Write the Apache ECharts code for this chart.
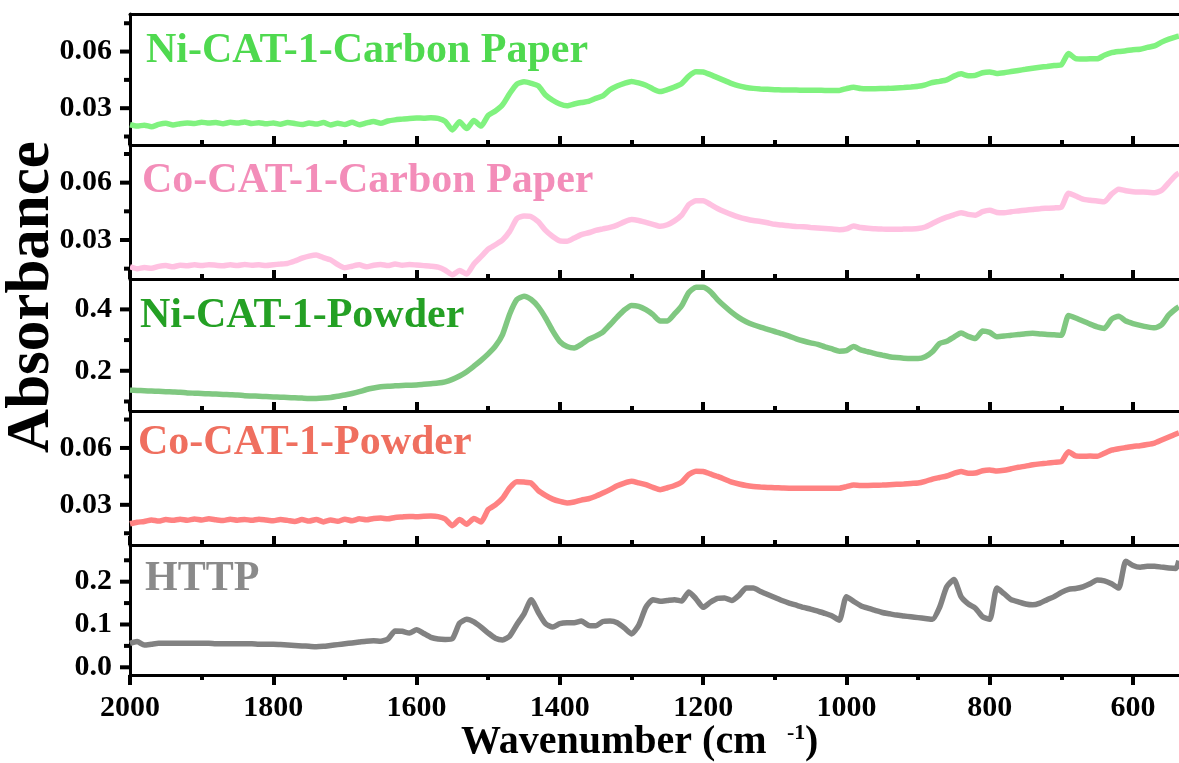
<!DOCTYPE html>
<html>
<head>
<meta charset="utf-8">
<script src="https://cdn.jsdelivr.net/npm/echarts@6/dist/echarts.min.js"></script>
<style>
  html, body { margin: 0; padding: 0; background: #ffffff; }
  #chart { width: 1179px; height: 763px; }
</style>
</head>
<body>
<div id="chart"></div>
<script>
// FTIR spectra, wavenumber axis (cm^-1) shared by every panel
const wavenumbers = [
  2000,1990,1980,1970,1960,1950,1940,1930,1920,1910,1900,1890,1880,1870,1860,1850,1840,1830,1820,1810,
  1800,1790,1780,1770,1760,1750,1740,1730,1720,1710,1700,1690,1680,1670,1660,1650,1640,1630,1620,1610,
  1600,1590,1580,1570,1560,1550,1540,1530,1520,1510,1500,1490,1480,1470,1460,1450,1440,1430,1420,1410,
  1400,1390,1380,1370,1360,1350,1340,1330,1320,1310,1300,1290,1280,1270,1260,1250,1240,1230,1220,1210,
  1200,1190,1180,1170,1160,1150,1140,1130,1120,1110,1100,1090,1080,1070,1060,1050,1040,1030,1020,1010,
  1000,990,980,970,960,950,940,930,920,910,900,890,880,870,860,850,840,830,820,810,
  800,790,780,770,760,750,740,730,720,710,700,690,680,670,660,650,640,630,620,610,
  600,590,580,570,560,550,540,536
];

// Absorbance of each sample
const niCatCarbonPaper = [
  .0212,.0205,.0210,.0202,.0214,.0220,.0211,.0218,.0222,.0219,.0226,.0221,.0224,.0218,.0225,.0221,.0227,.0219,.0223,.0217,
  .0222,.0215,.0224,.0219,.0213,.0222,.0216,.0224,.0211,.0220,.0214,.0225,.0212,.0222,.0230,.0220,.0232,.0238,.0242,.0246,
  .0248,.0247,.0249,.0246,.0230,.0185,.0228,.0192,.0235,.0205,.0262,.0285,.0318,.0378,.0428,.0440,.0432,.0418,.0370,.0342,
  .0322,.0313,.0322,.0330,.0336,.0352,.0365,.0398,.0418,.0432,.0442,.0434,.0422,.0402,.0388,.0398,.0412,.0430,.0470,.0493,
  .0492,.0478,.0462,.0446,.0430,.0418,.0410,.0405,.0402,.0400,.0398,.0397,.0396,.0396,.0395,.0395,.0395,.0394,.0394,.0394,
  .0404,.0411,.0404,.0403,.0403,.0404,.0405,.0407,.0409,.0412,.0416,.0424,.0436,.0442,.0450,.0470,.0482,.0472,.0474,.0488,
  .0492,.0484,.0488,.0494,.0500,.0506,.0512,.0517,.0521,.0526,.0530,.0590,.0562,.0560,.0562,.0562,.0580,.0594,.0600,.0604,
  .0610,.0612,.0622,.0630,.0650,.0666,.0678,.0681
];
const coCatCarbonPaper = [
  .0160,.0150,.0156,.0152,.0162,.0166,.0160,.0168,.0165,.0170,.0166,.0171,.0168,.0165,.0170,.0167,.0172,.0168,.0170,.0167,
  .0171,.0174,.0178,.0190,.0205,.0216,.0222,.0208,.0196,.0172,.0155,.0163,.0170,.0160,.0168,.0172,.0166,.0174,.0168,.0172,
  .0169,.0166,.0163,.0158,.0142,.0118,.0140,.0122,.0175,.0213,.0252,.0275,.0300,.0345,.0412,.0425,.0422,.0395,.0350,.0318,
  .0295,.0293,.0310,.0328,.0338,.0350,.0358,.0366,.0378,.0395,.0407,.0402,.0392,.0382,.0372,.0380,.0400,.0430,.0485,.0505,
  .0506,.0486,.0465,.0448,.0433,.0420,.0410,.0402,.0397,.0390,.0382,.0378,.0374,.0371,.0369,.0366,.0363,.0360,.0357,.0354,
  .0358,.0373,.0365,.0361,.0359,.0357,.0356,.0356,.0357,.0358,.0360,.0368,.0386,.0405,.0420,.0432,.0443,.0434,.0430,.0448,
  .0456,.0444,.0442,.0448,.0452,.0456,.0460,.0464,.0466,.0468,.0472,.0545,.0530,.0514,.0508,.0504,.0500,.0540,.0566,.0558,
  .0553,.0551,.0550,.0547,.0560,.0600,.0640,.0649
];
const niCatPowder = [
  .137,.136,.135,.134,.133,.132,.131,.130,.128,.127,.126,.125,.124,.123,.122,.121,.119,.118,.117,.116,
  .115,.114,.113,.112,.111,.110,.110,.111,.113,.117,.121,.126,.132,.139,.144,.148,.150,.151,.152,.153,
  .154,.156,.158,.160,.164,.172,.183,.197,.215,.234,.255,.280,.318,.385,.432,.443,.432,.408,.372,.330,
  .295,.279,.274,.286,.302,.313,.326,.350,.375,.398,.413,.410,.399,.383,.362,.362,.385,.412,.455,.472,
  .472,.458,.432,.410,.390,.373,.360,.350,.342,.335,.328,.321,.313,.304,.297,.291,.286,.278,.271,.264,
  .266,.279,.268,.262,.256,.251,.246,.243,.241,.240,.240,.246,.262,.289,.296,.310,.323,.312,.305,.330,
  .325,.311,.313,.316,.318,.321,.322,.320,.318,.317,.316,.380,.372,.362,.352,.343,.338,.368,.378,.362,
  .354,.348,.343,.340,.350,.382,.402,.408
];
const coCatPowder = [
  .0200,.0208,.0212,.0220,.0214,.0222,.0218,.0224,.0219,.0225,.0220,.0226,.0221,.0217,.0224,.0219,.0223,.0218,.0224,.0220,
  .0216,.0223,.0218,.0212,.0222,.0214,.0223,.0210,.0220,.0213,.0224,.0216,.0226,.0221,.0228,.0230,.0226,.0233,.0236,.0239,
  .0237,.0240,.0241,.0238,.0225,.0190,.0222,.0198,.0228,.0210,.0275,.0300,.0335,.0390,.0422,.0420,.0415,.0375,.0350,.0330,
  .0318,.0310,.0315,.0325,.0332,.0345,.0362,.0380,.0400,.0415,.0424,.0416,.0406,.0392,.0380,.0390,.0402,.0420,.0460,.0477,
  .0476,.0463,.0450,.0435,.0420,.0410,.0402,.0397,.0394,.0392,.0390,.0389,.0388,.0388,.0388,.0388,.0388,.0388,.0388,.0388,
  .0396,.0405,.0402,.0402,.0403,.0404,.0406,.0408,.0410,.0413,.0415,.0424,.0436,.0444,.0452,.0466,.0476,.0466,.0468,.0480,
  .0484,.0478,.0482,.0490,.0498,.0504,.0511,.0516,.0520,.0524,.0528,.0580,.0558,.0556,.0557,.0556,.0572,.0588,.0596,.0602,
  .0608,.0612,.0618,.0626,.0642,.0658,.0674,.0679
];
const http = [
  .056,.060,.052,.054,.056,.056,.056,.056,.056,.056,.056,.056,.055,.055,.055,.055,.055,.055,.054,.054,
  .054,.053,.052,.051,.050,.049,.048,.049,.051,.053,.055,.057,.059,.061,.062,.061,.066,.085,.084,.080,
  .088,.079,.070,.066,.065,.067,.103,.112,.106,.094,.080,.068,.064,.073,.100,.125,.158,.128,.102,.094,
  .102,.104,.104,.108,.098,.097,.107,.108,.104,.092,.078,.098,.140,.158,.154,.156,.158,.155,.176,.160,
  .140,.152,.161,.162,.156,.168,.185,.185,.177,.170,.163,.156,.150,.145,.140,.136,.131,.126,.120,.110,
  .165,.154,.144,.138,.133,.128,.125,.122,.120,.118,.116,.114,.112,.140,.188,.205,.165,.148,.138,.118,
  .112,.185,.172,.158,.153,.148,.146,.150,.158,.165,.175,.182,.184,.188,.195,.204,.202,.195,.185,.248,
  .238,.234,.236,.236,.234,.232,.231,.249
];

// Panel names, top to bottom
const sampleNames = ['Ni-CAT-1-Carbon Paper', 'Co-CAT-1-Carbon Paper', 'Ni-CAT-1-Powder', 'Co-CAT-1-Powder', 'HTTP'];
const sampleValues = [niCatCarbonPaper, coCatCarbonPaper, niCatPowder, coCatPowder, http];

// Axis ranges and ticks.
// Wavenumber decreases to the right: the x scale runs on -wavenumber, labels show the magnitude.
// The scale continues past the right edge of the page to 400 cm-1.
const xRange = [-2000, -400];
const xInterval = 200;
const yRanges = [[0.0105, 0.0799], [0.0096, 0.0797], [0.069, 0.499], [0.0088, 0.0795], [-0.018, 0.2857]];
const yMajorTicks = [[0.03, 0.06], [0.03, 0.06], [0.2, 0.4], [0.03, 0.06], [0.0, 0.1, 0.2]];
const yMinorTicks = [[0.015, 0.045, 0.075], [0.015, 0.045, 0.075], [0.1, 0.3], [0.015, 0.045, 0.075], [0.05, 0.15, 0.25]];
const yDecimals = [2, 2, 1, 2, 1];

// Styling
const SERIF = 'Liberation Serif';
const lineColors = ['#80F27F', '#FFC1E1', '#80C881', '#FF8282', '#828282'];
const labelColors = ['#4FD94F', '#F38DB9', '#24A024', '#EF6F5F', '#8A8A8A'];
const panelEdges = [14, 145, 279, 411, 545, 675];
const labelPos = [[146, 51], [142, 181], [140, 316], [138, 443], [145, 579]];
const PLOT_LEFT = 130;
const PLOT_WIDTH = 1146.3;
const AXIS_W = 3;
const TICK_W = 4;
const TICK = { xMajor: 9, xBottom: 10, xMinor: 5, yMajor: 10, yMinor: 6 };

const grids = [], xAxes = [], yAxes = [], series = [], graphics = [];
const last = sampleNames.length - 1;

function xAxisFor(gi, position, withTicks, withLabels) {
  return {
    type: 'value', gridIndex: gi, position: position,
    min: xRange[0], max: xRange[1], interval: xInterval,
    splitLine: { show: false },
    axisLine: { show: true, onZero: false, lineStyle: { color: '#000', width: AXIS_W } },
    axisTick: { show: withTicks, length: position === 'bottom' ? TICK.xBottom : TICK.xMajor,
                lineStyle: { color: '#000', width: TICK_W } },
    minorTick: { show: withTicks, splitNumber: 2, length: TICK.xMinor,
                 lineStyle: { color: '#000', width: TICK_W } },
    axisLabel: {
      show: withLabels, margin: 18,
      fontFamily: SERIF, fontWeight: 'bold', fontSize: 30, color: '#000',
      formatter: (v) => String(Math.abs(v))
    }
  };
}

sampleNames.forEach((name, i) => {
  grids.push({
    left: PLOT_LEFT, width: PLOT_WIDTH, top: panelEdges[i], height: panelEdges[i + 1] - panelEdges[i],
    containLabel: false, outerBoundsMode: 'none'
  });

  // top frame: ticks point up into the panel above (none on the first panel)
  const dataX = xAxes.length;
  xAxes.push(xAxisFor(i, 'top', i > 0, false));
  if (i === last) xAxes.push(xAxisFor(i, 'bottom', true, true));

  const [ymin, ymax] = yRanges[i];
  const dataY = yAxes.length;
  yAxes.push({
    type: 'value', gridIndex: i, position: 'left', min: ymin, max: ymax,
    splitLine: { show: false },
    axisLine: { show: true, onZero: false, lineStyle: { color: '#000', width: AXIS_W } },
    axisTick: { show: false },
    axisLabel: {
      show: true, customValues: yMajorTicks[i], margin: 18,
      fontFamily: SERIF, fontWeight: 'bold', fontSize: 30, color: '#000',
      formatter: (v) => Number(v).toFixed(yDecimals[i])
    }
  });

  series.push({
    name: name, type: 'line', xAxisIndex: dataX, yAxisIndex: dataY,
    data: wavenumbers.map((w, k) => [-w, sampleValues[i][k]]),
    showSymbol: false, symbol: 'none', smooth: 0.2,
    lineStyle: { color: lineColors[i], width: 5.5 },
    z: 1
  });

  graphics.push({
    type: 'text', x: labelPos[i][0], y: labelPos[i][1], z: 10,
    style: { text: name, fill: labelColors[i], font: 'bold 42px "' + SERIF + '"',
             align: 'left', verticalAlign: 'middle' }
  });
});

// Axis titles
graphics.push({
  type: 'text', x: 32, y: 297, rotation: Math.PI / 2, z: 10,
  style: { text: 'Absorbance', fill: '#000', font: 'bold 61px "' + SERIF + '"', align: 'center', verticalAlign: 'middle' }
});
graphics.push({
  type: 'text', x: 461, y: 743, z: 10,
  style: { text: 'Wavenumber (cm', fill: '#000', font: 'bold 40px "' + SERIF + '"', align: 'left', verticalAlign: 'middle' }
});
graphics.push({
  type: 'text', x: 787, y: 733, z: 10,
  style: { text: '-1', fill: '#000', font: 'bold 22px "' + SERIF + '"', align: 'left', verticalAlign: 'middle' }
});
graphics.push({
  type: 'text', x: 805, y: 743, z: 10,
  style: { text: ')', fill: '#000', font: 'bold 40px "' + SERIF + '"', align: 'left', verticalAlign: 'middle' }
});

const chart = echarts.init(document.getElementById('chart'), null, { renderer: 'canvas' });
chart.setOption({
  backgroundColor: '#ffffff',
  animation: false,
  grid: grids,
  xAxis: xAxes,
  yAxis: yAxes,
  series: series
});

// Left-axis ticks (major and half-step minor), placed through each panel's own scale
sampleNames.forEach((name, i) => {
  const toPixel = (v) => chart.convertToPixel({ seriesIndex: i }, [xRange[0], v]);
  const addTick = (v, len) => {
    const p = toPixel(v);
    graphics.push({
      type: 'polyline', z: 5,
      shape: { points: [[p[0], p[1]], [p[0] - len, p[1]]] },
      style: { stroke: '#000', lineWidth: TICK_W, fill: null }
    });
  };
  yMajorTicks[i].forEach(v => addTick(v, TICK.yMajor));
  yMinorTicks[i].forEach(v => addTick(v, TICK.yMinor));
});

chart.setOption({ graphic: { elements: graphics } });
</script>
</body>
</html>
